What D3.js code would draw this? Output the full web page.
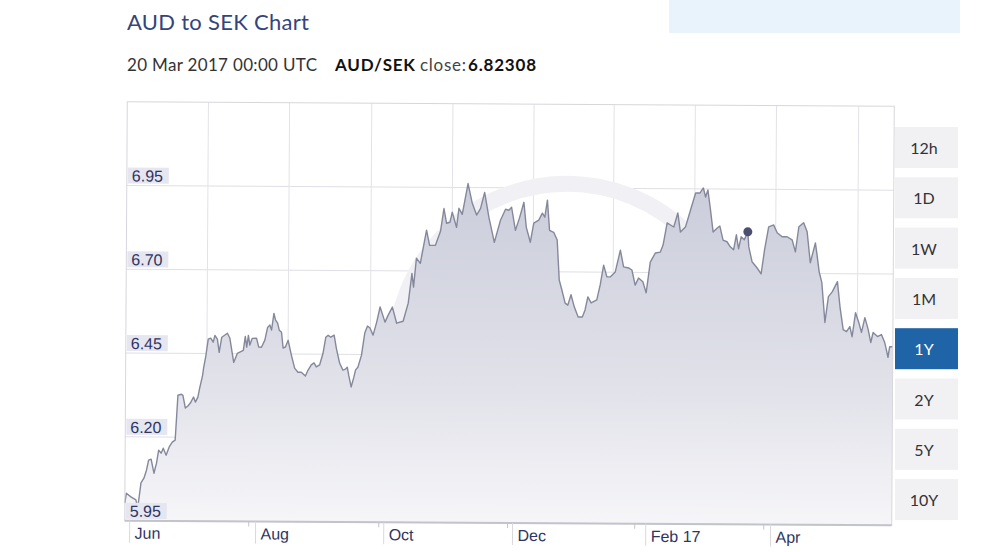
<!DOCTYPE html>
<html>
<head>
<meta charset="utf-8">
<script src="https://cdn.jsdelivr.net/npm/d3@7"></script>
<style>
  body { margin: 0; background: #fff; }
  svg { display: block; }
</style>
</head>
<body>
<svg id="chart" width="981" height="552"></svg>
<script>
// day offsets from 29 May 2016
const days = [
  0, 0.7, 2.9, 5.3, 6.2, 7.7, 9.1, 10.3, 11.3, 12.5,
  13.9, 15.1, 16.1, 17.3, 18.3, 19.7, 21.1, 22.6, 24.0, 25.2,
  26.9, 27.6, 28.8, 30.0, 31.2, 32.7, 33.6, 34.8, 35.6, 37.0,
  37.5, 38.4, 39.6, 40.8, 42.0, 42.8, 44.0, 44.9, 46.1, 48.8,
  50.0, 51.9, 53.6, 56.5, 57.4, 58.1, 58.9, 59.6, 60.7, 62.8,
  63.9, 65.2, 66.8, 68.1, 69.2, 70.0, 71.1, 71.9, 72.9, 73.7,
  74.8, 75.6, 76.7, 78.0, 79.6, 81.2, 82.8, 84.4, 86.4, 87.6,
  89.2, 90.5, 91.6, 93.2, 94.8, 96.1, 97.2, 98.5, 100.1, 101.2,
  102.8, 104.4, 105.6, 106.5, 107.2, 108.4, 109.6, 110.5, 111.6, 113.3,
  114.8, 116.1, 117.3, 118.8, 120.5, 122.1, 124.5, 126.0, 128.0, 130.1,
  133.2, 135.6, 137.3, 138.1, 139.4, 141.3, 144.2, 145.7, 148.5, 150.9,
  152.5, 153.8, 155.4, 156.5, 158.6, 159.7, 161.3, 164.0, 166.1, 168.2,
  170.1, 172.0, 174.1, 176.8, 179.7, 182.1, 183.7, 185.0, 186.9, 188.9,
  190.9, 192.1, 194.1, 195.7, 198.1, 199.8, 201.0, 202.2, 203.3, 205.3,
  207.0, 208.1, 209.4, 211.0, 212.3, 213.8, 215.4, 217.3, 219.3, 220.6,
  221.9, 223.5, 226.2, 227.8, 229.4, 231.0, 232.6, 235.0, 237.4, 239.0,
  241.4, 243.0, 244.6, 246.2, 248.3, 249.9, 251.8, 254.2, 256.6, 257.9,
  259.8, 261.4, 263.0, 264.9, 266.2, 268.6, 271.0, 273.4, 275.5, 277.1,
  278.2, 279.3, 280.6, 281.9, 283.9, 285.1, 286.7, 288.6, 290.2, 291.8,
  293.1, 294.2, 295.4, 296.9, 298.6, 299.1, 300.7, 303.1, 305.1, 306.7,
  308.6, 311.0, 312.7, 315.1, 317.5, 319.9, 321.5, 323.1, 325.4, 327.1,
  328.7, 331.1, 331.9, 333.0, 334.3, 335.9, 337.5, 339.4, 341.8, 343.1,
  344.7, 346.3, 347.9, 349.0, 350.6, 352.2, 353.5, 355.1, 356.7, 358.0,
  359.1, 361.2, 363.1, 364.7, 365.5, 366.3, 367.1, 368.6
];

// AUD/SEK close
const rates = [
  6.003, 6.032, 6.021, 6.012, 5.988, 6.063, 6.077, 6.101, 6.131, 6.134,
  6.092, 6.122, 6.161, 6.152, 6.167, 6.146, 6.170, 6.185, 6.191, 6.325,
  6.328, 6.325, 6.287, 6.293, 6.302, 6.320, 6.305, 6.320, 6.346, 6.385,
  6.409, 6.439, 6.493, 6.496, 6.484, 6.504, 6.493, 6.454, 6.499, 6.511,
  6.496, 6.424, 6.451, 6.460, 6.502, 6.470, 6.505, 6.476, 6.496, 6.497,
  6.470, 6.470, 6.491, 6.529, 6.536, 6.521, 6.571, 6.551, 6.542, 6.521,
  6.515, 6.468, 6.471, 6.491, 6.447, 6.408, 6.396, 6.396, 6.385, 6.402,
  6.418, 6.424, 6.412, 6.418, 6.453, 6.501, 6.507, 6.501, 6.507, 6.468,
  6.424, 6.403, 6.406, 6.412, 6.388, 6.353, 6.380, 6.404, 6.412, 6.448,
  6.514, 6.535, 6.529, 6.508, 6.547, 6.592, 6.547, 6.568, 6.592, 6.544,
  6.550, 6.604, 6.693, 6.652, 6.738, 6.723, 6.822, 6.777, 6.777, 6.819,
  6.887, 6.843, 6.846, 6.876, 6.831, 6.888, 6.870, 6.962, 6.903, 6.868,
  6.888, 6.936, 6.862, 6.787, 6.853, 6.886, 6.883, 6.892, 6.823, 6.862,
  6.907, 6.833, 6.788, 6.845, 6.854, 6.875, 6.863, 6.914, 6.824, 6.818,
  6.795, 6.676, 6.646, 6.607, 6.601, 6.632, 6.596, 6.566, 6.566, 6.587,
  6.626, 6.608, 6.617, 6.662, 6.721, 6.686, 6.686, 6.701, 6.766, 6.716,
  6.713, 6.707, 6.662, 6.683, 6.672, 6.639, 6.731, 6.758, 6.761, 6.782,
  6.848, 6.842, 6.836, 6.878, 6.821, 6.836, 6.887, 6.938, 6.938, 6.953,
  6.926, 6.947, 6.887, 6.822, 6.834, 6.840, 6.798, 6.793, 6.778, 6.769,
  6.814, 6.772, 6.808, 6.799, 6.82308, 6.778, 6.734, 6.716, 6.698, 6.770,
  6.838, 6.844, 6.821, 6.809, 6.809, 6.800, 6.764, 6.839, 6.851, 6.824,
  6.732, 6.791, 6.756, 6.705, 6.673, 6.554, 6.631, 6.646, 6.676, 6.601,
  6.533, 6.527, 6.542, 6.512, 6.584, 6.554, 6.525, 6.569, 6.534, 6.495,
  6.525, 6.513, 6.519, 6.495, 6.474, 6.451, 6.483, 6.483
];

const dayMax = 368.6;
const yTicks = [5.95, 6.20, 6.45, 6.70, 6.95];
const labelTicks = [2.4, 62.9, 124.5, 186.4, 250.4, 310.4];
const monthLabels = ["Jun", "Aug", "Oct", "Dec", "Feb 17", "Apr"];
const minorTicks = [59.6, 122.1, 184.0, 245.1, 307.1];
const gridDays = [39, 78, 117.5, 156.5, 195.5, 234, 273, 312, 351.5];
const ranges = ["12h", "1D", "1W", "1M", "1Y", "2Y", "5Y", "10Y"];
const activeRange = "1Y";
const markerIndex = 194;

const data = days.map((d, i) => ({day: d, rate: rates[i]}));

const svg = d3.select("#chart");

// header
svg.append("rect")
    .attr("x", 669).attr("y", 0).attr("width", 291).attr("height", 33)
    .attr("fill", "#e8f3fc");

svg.append("text")
    .attr("x", 127).attr("y", 30)
    .attr("font-family", "Lato, 'Open Sans', sans-serif")
    .attr("font-size", 22)
    .attr("fill", "#34457a")
    .attr("textLength", 182).attr("lengthAdjust", "spacing")
    .text("AUD to SEK Chart");

svg.append("text")
    .attr("x", 127).attr("y", 70.5)
    .attr("font-family", "Lato, 'Open Sans', sans-serif")
    .attr("font-size", 17)
    .attr("fill", "#333")
    .attr("textLength", 190).attr("lengthAdjust", "spacing")
    .text("20 Mar 2017 00:00 UTC");

svg.append("text")
    .attr("x", 335).attr("y", 70.5)
    .attr("font-family", "Lato, 'Open Sans', sans-serif")
    .attr("font-size", 17).attr("font-weight", "bold")
    .attr("fill", "#111")
    .attr("textLength", 80).attr("lengthAdjust", "spacing")
    .text("AUD/SEK");

svg.append("text")
    .attr("x", 420).attr("y", 70.5)
    .attr("font-family", "Lato, 'Open Sans', sans-serif")
    .attr("font-size", 17)
    .attr("fill", "#444")
    .attr("textLength", 46).attr("lengthAdjust", "spacing")
    .text("close:");

svg.append("text")
    .attr("x", 468).attr("y", 70.5)
    .attr("font-family", "Lato, 'Open Sans', sans-serif")
    .attr("font-size", 17).attr("font-weight", "bold")
    .attr("fill", "#111")
    .attr("textLength", 68).attr("lengthAdjust", "spacing")
    .text(rates[markerIndex].toFixed(5));

// plot
let margin = {top: 104, right: 88, bottom: 29, left: 126},
    width = 981 - margin.left - margin.right,
    height = 552 - margin.top - margin.bottom;

let g = svg.append("g")
    .attr("transform", `translate(${margin.left},${margin.top}) rotate(0.35, ${width / 2}, ${height / 2})`);

let x = d3.scaleLinear().domain([0, dayMax]).range([0, width]);
let y = d3.scaleLinear().domain([5.95, 7.2]).range([height, 0]);

let defs = svg.append("defs");
let grad = defs.append("linearGradient")
    .attr("id", "areaFill")
    .attr("gradientUnits", "userSpaceOnUse")
    .attr("x1", 0).attr("y1", y(6.95)).attr("x2", 0).attr("y2", height);
grad.append("stop").attr("offset", "0%").attr("stop-color", "#cbcddb");
grad.append("stop").attr("offset", "55%").attr("stop-color", "#dfe0e8");
grad.append("stop").attr("offset", "100%").attr("stop-color", "#f6f6f9");

defs.append("clipPath")
    .attr("id", "plotClip")
    .append("rect")
    .attr("width", width).attr("height", height);

// grid
g.append("g")
    .selectAll("line")
    .data(yTicks.slice(1))
    .join("line")
    .attr("x1", 0).attr("x2", width)
    .attr("y1", d => y(d)).attr("y2", d => y(d))
    .attr("stroke", "#dfdfe5").attr("stroke-width", 1);

g.append("g")
    .selectAll("line")
    .data(gridDays)
    .join("line")
    .attr("x1", d => x(d)).attr("x2", d => x(d))
    .attr("y1", 0).attr("y2", height)
    .attr("stroke", "#e2e2e8").attr("stroke-width", 1);

// faint logo ring behind the area
g.append("circle")
    .attr("clip-path", "url(#plotClip)")
    .attr("cx", x(212)).attr("cy", y(6.45))
    .attr("r", 172)
    .attr("fill", "none")
    .attr("stroke", "#f1f1f5")
    .attr("stroke-width", 16);

// area + line
g.append("path")
    .datum(data)
    .attr("fill", "url(#areaFill)")
    .attr("d", d3.area()
        .x(d => x(d.day))
        .y0(height)
        .y1(d => y(d.rate)));

g.append("path")
    .datum(data)
    .attr("fill", "none")
    .attr("stroke", "#85889b")
    .attr("stroke-width", 1.4)
    .attr("stroke-linejoin", "round")
    .attr("d", d3.line()
        .x(d => x(d.day))
        .y(d => y(d.rate)));

// frame
g.append("rect")
    .attr("x", 0).attr("y", 0).attr("width", width).attr("height", height)
    .attr("fill", "none").attr("stroke", "#d6d6dd").attr("stroke-width", 1);

// x axis
g.append("line")
    .attr("x1", 0).attr("x2", width).attr("y1", height).attr("y2", height)
    .attr("stroke", "#c3c3cc").attr("stroke-width", 2);

g.append("g")
    .selectAll("line")
    .data(minorTicks)
    .join("line")
    .attr("x1", d => x(d)).attr("x2", d => x(d))
    .attr("y1", height).attr("y2", height + 5)
    .attr("stroke", "#c3c3cc");

g.append("g")
    .selectAll("line")
    .data(labelTicks)
    .join("line")
    .attr("x1", d => x(d)).attr("x2", d => x(d))
    .attr("y1", height).attr("y2", height + 22)
    .attr("stroke", "#d8d8de");

g.append("g")
    .selectAll("text")
    .data(labelTicks)
    .join("text")
    .attr("x", d => x(d) + 5)
    .attr("y", height + 18)
    .attr("font-family", "'Liberation Sans', Arial, sans-serif")
    .attr("font-size", 16)
    .attr("fill", "#2f3561")
    .text((d, i) => monthLabels[i]);

// y labels inside plot
let yl = g.append("g")
    .selectAll("g")
    .data(yTicks)
    .join("g")
    .attr("transform", d => `translate(1, ${y(d)})`);

yl.append("rect")
    .attr("x", 0).attr("y", -18).attr("width", 41).attr("height", 16)
    .attr("fill", "#e6e6f1");

yl.append("text")
    .attr("x", 4).attr("y", -4)
    .attr("font-family", "'Liberation Sans', Arial, sans-serif")
    .attr("font-size", 16)
    .attr("fill", "#2f3561")
    .text(d => d.toFixed(2));

// marker at the shown close
g.append("circle")
    .attr("cx", x(days[markerIndex]))
    .attr("cy", y(rates[markerIndex]))
    .attr("r", 4.5)
    .attr("fill", "#4b4f70");

// range buttons
let btn = svg.append("g")
    .selectAll("g")
    .data(ranges)
    .join("g")
    .attr("transform", (d, i) => `translate(895, ${127 + i * 50.3})`);

btn.append("rect")
    .attr("width", 63).attr("height", 41)
    .attr("fill", d => d === activeRange ? "#1f64a6" : "#f1f1f4");

btn.append("text")
    .attr("x", 29).attr("y", 27)
    .attr("text-anchor", "middle")
    .attr("font-family", "Lato, 'Open Sans', sans-serif")
    .attr("font-size", 16)
    .attr("fill", d => d === activeRange ? "#fff" : "#333")
    .text(d => d);
</script>
</body>
</html>
